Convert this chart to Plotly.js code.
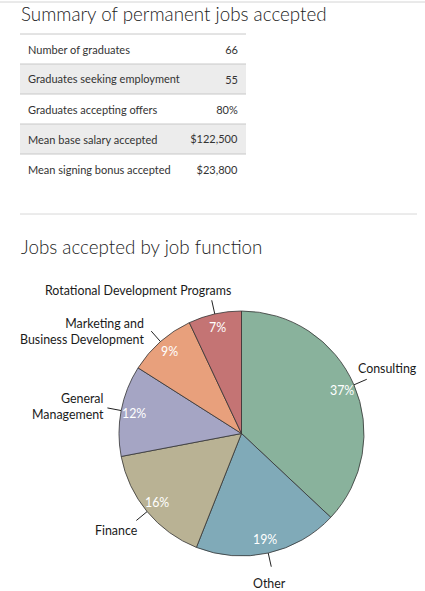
<!DOCTYPE html>
<html><head><meta charset="utf-8">
<script src="https://cdn.plot.ly/plotly-3.0.1.min.js"></script>
<style>html,body{margin:0;padding:0;background:#fff}#chart{width:425px;height:591px}</style>
</head><body><div id="chart"></div>
<script>
// ---- data ----
const summaryLabels = ['Number of graduates','Graduates seeking employment','Graduates accepting offers','Mean base salary accepted','Mean signing bonus accepted'];
const summaryValues = ['66','55','80%','$122,500','$23,800'];
const jobFunctions = ['Consulting','Other','Finance','General Management','Marketing and Business Development','Rotational Development Programs'];
const jobShares = [37,19,16,12,9,7];
const jobLabelText = ['Consulting','Other','Finance','General<br>Management','Marketing and<br>Business Development','Rotational Development Programs'];
const sliceColors = ['#89b29c','#80aab8','#b9b294','#a5a5c4','#e8a07c','#c47474'];

// ---- layout geometry (pixels) ----
const W = 425, H = 591;
const X = px => px / W, Y = py => 1 - py / H;
const FONT = 'Lato, "Open Sans", sans-serif';
const TABLE_TEXT = '#333333';
const tbl = {left: 20, right: 246, top: 34, rowH: 30, headH: 1, textDrop: 3.5};
const pie = {cx: 241.5, cy: 433.5, r: 122.5, lead: 14, textR: 0.89};
// label placement styles, per slice
const place = [
  {xa:'left',  ya:'bottom', dx:-11, dy:-1, al:'left'},
  {xa:'center',ya:'top',    dx:-2,  dy:7,  al:'center'},
  {xa:'right', ya:'top',    dx:3.5, dy:0,  al:'right'},
  {xa:'right', ya:'middle', dx:-1.5,dy:-1, al:'right'},
  {xa:'right', ya:'middle', dx:-5,  dy:0,  al:'right'},
  {xa:'right', ya:'bottom', dx:21,  dy:0,  al:'right'}
];

const nRows = summaryLabels.length;
const rowFill = summaryLabels.map((_, i) => i % 2 ? '#ececec' : '#ffffff');
// keep each cell on one line and drop the text to the row's middle
const cellText = s => '<a href=""style="baseline-shift:-' + tbl.textDrop + 'px;color:' + TABLE_TEXT + '">' + s.replace(/ /g, '\u00a0') + '</a>';

const tableTrace = {
  type: 'table',
  domain: {x: [X(tbl.left), X(tbl.right)], y: [Y(tbl.top + nRows * tbl.rowH), Y(tbl.top - tbl.headH)]},
  columnwidth: [165, 61],
  header: {values: ['', ''], height: tbl.headH, fill: {color: '#ffffff'}, line: {width: 0, color: '#ffffff'}, font: {size: 1}},
  cells: {
    values: [summaryLabels.map(cellText), summaryValues.map(cellText)],
    align: ['left', 'right'],
    height: tbl.rowH,
    fill: {color: [rowFill, rowFill]},
    line: {width: 0, color: '#ffffff'},
    font: {family: FONT, size: 11, color: TABLE_TEXT}
  },
  hoverinfo: 'skip'
};

const pieTrace = {
  type: 'pie',
  labels: jobFunctions,
  values: jobShares,
  sort: false,
  direction: 'clockwise',
  rotation: 0,
  textinfo: 'none',
  hoverinfo: 'skip',
  showlegend: false,
  marker: {colors: sliceColors, line: {color: '#333333', width: 0.8}},
  domain: {x: [X(pie.cx - pie.r), X(pie.cx + pie.r)], y: [Y(pie.cy + pie.r), Y(pie.cy - pie.r)]}
};

const shapes = [
  {type: 'line', xref: 'paper', yref: 'paper', x0: 0, x1: 1, y0: Y(2), y1: Y(2), line: {color: '#d4d4d4', width: 1}},
  {type: 'line', xref: 'paper', yref: 'paper', x0: X(20), x1: X(417), y0: Y(214), y1: Y(214), line: {color: '#d8d8d8', width: 1}}
];
for (let i = 0; i < nRows; i++) {
  const y = tbl.top + i * tbl.rowH;
  shapes.push({type: 'line', xref: 'paper', yref: 'paper', x0: X(tbl.left), x1: X(tbl.right), y0: Y(y), y1: Y(y), line: {color: '#c8c8c8', width: 1}, layer: 'above'});
}

const titleFont = {family: FONT, size: 18.8, color: '#222222', weight: 300};
const annotations = [
  {text: 'Summary of permanent jobs accepted', xref: 'paper', yref: 'paper', x: X(19), y: Y(14), xanchor: 'left', yanchor: 'middle', showarrow: false, font: titleFont},
  {text: 'Jobs accepted by job function', xref: 'paper', yref: 'paper', x: X(19), y: Y(246), xanchor: 'left', yanchor: 'middle', showarrow: false, font: titleFont}
];

const total = jobShares.reduce((a, b) => a + b, 0);
let cum = 0;
jobShares.forEach((v, i) => {
  const mid = (cum + v / 2) / total * 2 * Math.PI;
  cum += v;
  const ux = Math.sin(mid), uy = -Math.cos(mid);
  const sx = pie.cx + pie.r * ux, sy = pie.cy + pie.r * uy;
  const ex = pie.cx + (pie.r + pie.lead) * ux, ey = pie.cy + (pie.r + pie.lead) * uy;
  shapes.push({type: 'line', xref: 'paper', yref: 'paper', x0: X(sx), y0: Y(sy), x1: X(ex), y1: Y(ey), line: {color: '#222222', width: 1}});
  const p = place[i];
  annotations.push({text: jobLabelText[i], xref: 'paper', yref: 'paper', x: X(ex + p.dx), y: Y(ey + p.dy), xanchor: p.xa, yanchor: p.ya, align: p.al, showarrow: false, font: {family: FONT, size: 12.4, color: '#1a1a1a'}});
  const tx = pie.cx + pie.r * pie.textR * ux, ty = pie.cy + pie.r * pie.textR * uy;
  annotations.push({text: v + '%', xref: 'paper', yref: 'paper', x: X(tx), y: Y(ty), xanchor: 'center', yanchor: 'middle', showarrow: false, font: {family: FONT, size: 12.4, color: '#ffffff'}});
});

const layout = {
  width: W, height: H,
  margin: {l: 0, r: 0, t: 0, b: 0},
  paper_bgcolor: '#ffffff', plot_bgcolor: '#ffffff',
  shapes: shapes, annotations: annotations,
  showlegend: false
};
Plotly.newPlot('chart', [tableTrace, pieTrace], layout, {displayModeBar: false, staticPlot: true});
</script>
</body></html>
